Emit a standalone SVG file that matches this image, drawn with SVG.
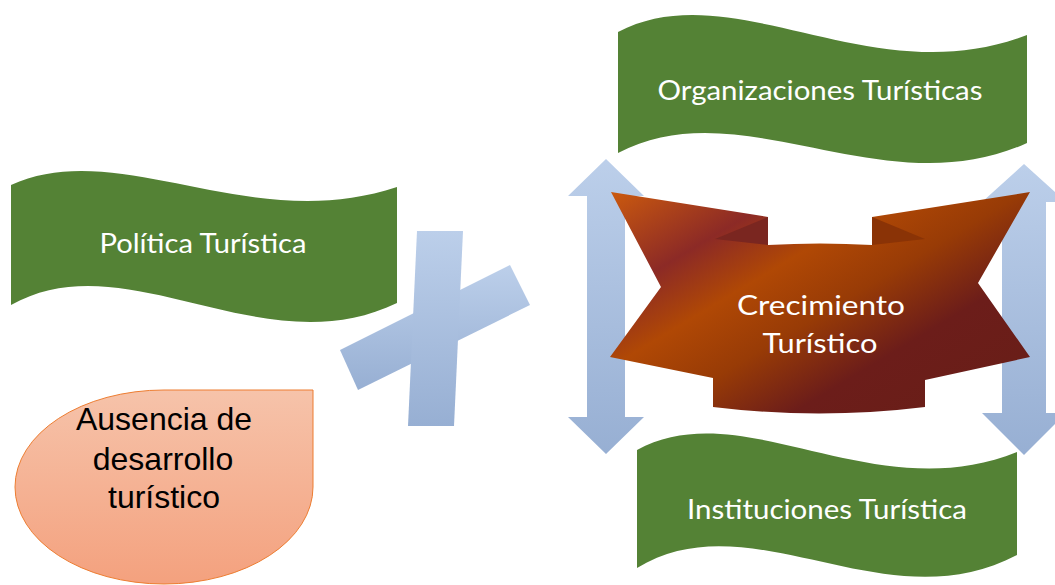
<svg xmlns="http://www.w3.org/2000/svg" width="1055" height="585" viewBox="0 0 1055 585">
  <defs>
    <linearGradient id="blueV" x1="0" y1="0" x2="0" y2="1">
      <stop offset="0" stop-color="#bccfea"/>
      <stop offset="1" stop-color="#97afd3"/>
    </linearGradient>
    <linearGradient id="peach" x1="0" y1="0" x2="0" y2="1">
      <stop offset="0" stop-color="#f6c3aa"/>
      <stop offset="1" stop-color="#f4a17e"/>
    </linearGradient>
    <linearGradient id="ribbonGrad" gradientUnits="userSpaceOnUse" x1="620" y1="190" x2="800" y2="490">
      <stop offset="0" stop-color="#c9580f"/>
      <stop offset="0.25" stop-color="#8c2a26"/>
      <stop offset="0.42" stop-color="#b04805"/>
      <stop offset="0.6" stop-color="#983b06"/>
      <stop offset="0.8" stop-color="#6c1d1a"/>
      <stop offset="1" stop-color="#6a1e18"/>
    </linearGradient>
    <style>
      .wave { fill: #548235; }
      .wtext { font-family: Lato, "Open Sans", sans-serif; font-size: 26px; fill: #ffffff; text-anchor: middle; }
      .blue { fill: url(#blueV); }
      .btext { font-family: "Liberation Sans", Arial, sans-serif; font-size: 32px; fill: #000000; text-anchor: middle; }
    </style>
  </defs>

  <g id="politica">
    <path class="wave" d="M11,185 C119,136 250,236 397,187 L397,303 C262,368 127,240 11,305 Z"/>
    <text class="wtext" x="203" y="253" textLength="207" lengthAdjust="spacingAndGlyphs">Política Turística</text>
  </g>

  <g id="organizaciones">
    <path class="wave" d="M618,32 C733,-28 872,95 1027,35 L1027,143 C884,208 741,88 618,153 Z"/>
    <text class="wtext" x="820" y="100" textLength="325" lengthAdjust="spacingAndGlyphs">Organizaciones Turísticas</text>
  </g>

  <g id="instituciones">
    <path class="wave" d="M637,450 C743,392 873,510 1017,452 L1017,555 C884,625 751,498 637,568 Z"/>
    <text class="wtext" x="827" y="519" textLength="280" lengthAdjust="spacingAndGlyphs">Instituciones Turística</text>
  </g>

  <g id="ausencia">
    <path d="M313,390 L313,487 A149,97 0 0 1 164,584 A149,97 0 0 1 15,487 A149,97 0 0 1 164,390 Z" fill="url(#peach)" stroke="#ed7d31" stroke-width="1"/>
    <text class="btext" x="164" y="430">Ausencia de</text>
    <text class="btext" x="163" y="470">desarrollo</text>
    <text class="btext" x="164" y="508">turístico</text>
  </g>

  <g id="cruz">
    <polygon class="blue" points="340,350 510,265 530,305 358,390"/>
    <polygon class="blue" points="417,231 463,231 454,426 408,426"/>
  </g>

  <g id="connectors">
    <path class="blue" d="M606,159 L644,196 L625,196 L625,417 L644,417 L606,454 L568,417 L587,417 L587,196 L568,196 Z"/>
    <path class="blue" d="M1024,164 L1066,202 L1046,202 L1046,413 L1066,413 L1024,455 L982,413 L1002,413 L1002,202 L982,202 Z"/>
  </g>

  <g id="crecimiento">
    <path fill="url(#ribbonGrad)" d="M611,192 L768,217 L768,245 Q820,242 872,245 L872,217 L1030,192 L978,283 L1030,357 L925,380 L925,407 Q819,420 713,407 L713,378 L610,357 L661,287 Z"/>
    <path fill="#7a2620" d="M715,239 L768,217 L768,245 Z"/>
    <path fill="#8a3306" d="M925,239 L872,217 L872,245 Z"/>
    <text class="wtext" x="821" y="315" textLength="168" lengthAdjust="spacingAndGlyphs">Crecimiento</text>
    <text class="wtext" x="820" y="353" textLength="115" lengthAdjust="spacingAndGlyphs">Turístico</text>
  </g>
</svg>
